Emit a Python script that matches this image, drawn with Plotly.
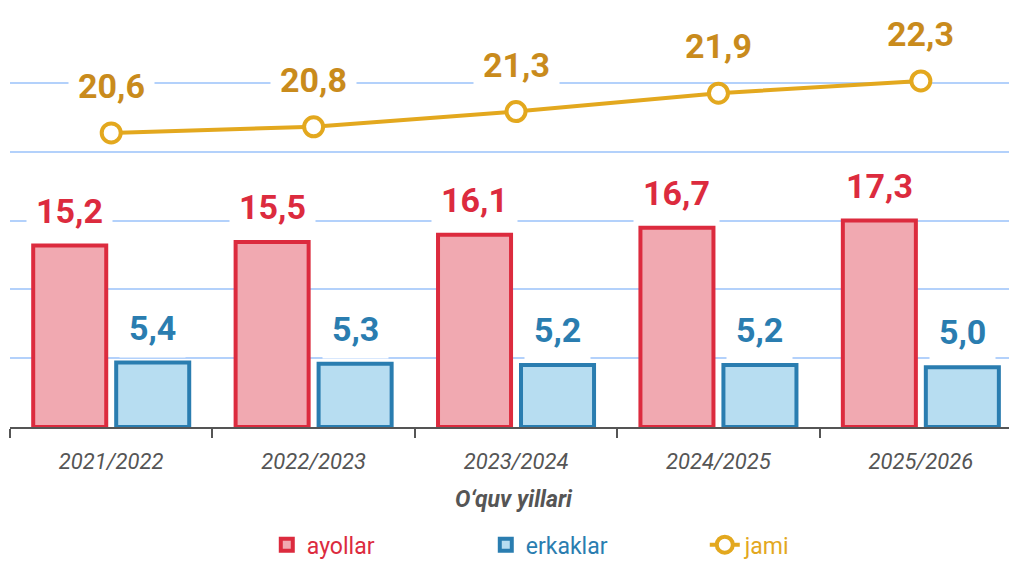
import plotly.graph_objects as go

years = ["2021/2022", "2022/2023", "2023/2024", "2024/2025", "2025/2026"]
ayollar = [15.2, 15.5, 16.1, 16.7, 17.3]
erkaklar = [5.4, 5.3, 5.2, 5.2, 5.0]
jami = [20.6, 20.8, 21.3, 21.9, 22.3]

RED = "#dc2b3e"
RED_FILL = "#f1a9b1"
BLUE = "#2a7db0"
BLUE_FILL = "#b7ddf1"
GOLD = "#e3a81e"
GOLD_TXT = "#c98b1c"
FONT = "Roboto"

def fmt(v):
    return f"{v:.1f}".replace(".", ",")

fig = go.Figure()
fig.add_trace(go.Bar(
    x=years, y=ayollar, name=f"<span style='color:{RED}'>ayollar</span>",
    marker=dict(color=RED_FILL, line=dict(color=RED, width=4)),
))
fig.add_trace(go.Bar(
    x=years, y=erkaklar, name=f"<span style='color:{BLUE}'>erkaklar</span>",
    marker=dict(color=BLUE_FILL, line=dict(color=BLUE, width=4)),
))
fig.add_trace(go.Scatter(
    x=years, y=jami, yaxis="y2", mode="lines+markers",
    name=f"<span style='color:{GOLD}'>jami</span>",
    line=dict(color=GOLD, width=4),
    marker=dict(size=19, color="white", line=dict(color=GOLD, width=4)),
))

annotations = []
for yr, v in zip(years, ayollar):
    annotations.append(dict(x=yr, y=v, xref="x", yref="y", text=fmt(v), showarrow=False,
                            xshift=-41.5, yshift=35, bgcolor="white", borderpad=9,
                            font=dict(family=FONT, size=34, color=RED, weight="bold")))
for yr, v in zip(years, erkaklar):
    annotations.append(dict(x=yr, y=v, xref="x", yref="y", text=fmt(v), showarrow=False,
                            xshift=41.5, yshift=35, bgcolor="white", borderpad=9,
                            font=dict(family=FONT, size=34, color=BLUE, weight="bold")))
for yr, v in zip(years, jami):
    annotations.append(dict(x=yr, y=v, xref="x", yref="y2", text=fmt(v), showarrow=False,
                            yshift=47, bgcolor="white", borderpad=9,
                            font=dict(family=FONT, size=34, color=GOLD_TXT, weight="bold")))

# The page body has an 8px margin, so the figure is offset by (8, 8) in the window.
fig.update_layout(
    width=1009, height=553,
    margin=dict(l=2, r=0, t=6, b=134, autoexpand=False),
    paper_bgcolor="white", plot_bgcolor="white",
    barmode="group", bargap=0.18, bargroupgap=0.12,
    showlegend=True,
    legend=dict(orientation="h", x=0.255, xanchor="left", y=-0.285, yanchor="middle",
                font=dict(family=FONT, size=23), entrywidth=174, traceorder="normal"),
    xaxis=dict(
        range=[-0.5, 4.475], showline=True, linecolor="#555555", linewidth=2,
        ticks="outside", tickson="boundaries", ticklen=9, tickcolor="#555555", tickwidth=2,
        ticklabelstandoff=14,
        tickfont=dict(family=FONT, size=22, color="#555555", style="italic"),
        title=dict(text="O‘quv yillari", standoff=17,
                   font=dict(family=FONT, size=23, color="#555555", style="italic", weight="bold")),
        showgrid=False, automargin=False,
    ),
    yaxis=dict(
        range=[0, 34.6], tick0=0, dtick=34.6 / 6, showticklabels=False,
        showgrid=True, gridcolor="#b3d1fb", gridwidth=1.5, zeroline=False, automargin=False,
    ),
    yaxis2=dict(
        range=[10.98, 24.49], overlaying="y", side="right", showticklabels=False,
        showgrid=False, zeroline=False, automargin=False,
    ),
    annotations=annotations,
)

fig.write_html("out.html")
